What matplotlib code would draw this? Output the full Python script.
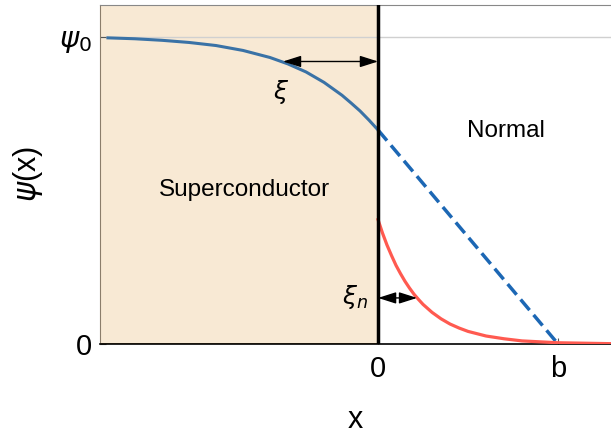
import matplotlib
matplotlib.use("Agg")
import matplotlib.pyplot as plt

plt.rcParams['font.family'] = ['Liberation Sans', 'DejaVu Sans']
plt.rcParams['mathtext.fontset'] = 'dejavusans'

# order parameter inside the superconductor
sc_x = [-1.5, -1.35, -1.2, -1.05, -0.9, -0.75, -0.6, -0.5, -0.45, -0.4, -0.35, -0.3,
        -0.25, -0.2, -0.15, -0.1, -0.05, -0.025, 0.0]
sc_psi = [0.997, 0.994, 0.989, 0.982, 0.972, 0.956, 0.933, 0.912, 0.899, 0.886, 0.869,
          0.852, 0.831, 0.810, 0.785, 0.759, 0.729, 0.713, 0.697]

# linear extrapolation into the normal metal, reaching zero at b
ext_x = [0.0, 1.0]
ext_psi = [0.697, 0.0]

# induced order parameter in the normal metal
n_x = [0.0, 0.025, 0.05, 0.075, 0.1, 0.125, 0.15, 0.175, 0.2, 0.225, 0.25, 0.3, 0.35,
       0.4, 0.45, 0.5, 0.6, 0.7, 0.8, 0.9, 1.0, 1.1, 1.3]
n_psi = [0.405, 0.361, 0.322, 0.288, 0.256, 0.229, 0.204, 0.182, 0.162, 0.145, 0.129,
         0.103, 0.082, 0.065, 0.052, 0.041, 0.026, 0.017, 0.010, 0.007, 0.004, 0.003, 0.001]

x_ticks = [0.0, 1.0]
x_ticklabels = ['0', 'b']
y_ticks = [0.0, 1.0]
y_ticklabels = ['0', r'$\psi_0$']

xi = (-0.528, 0.0, 0.92)      # x start, x end, height
xi_n = (0.0, 0.217, 0.15)

fig = plt.figure(figsize=(6.11, 4.34), dpi=100)
ax = fig.add_axes([0.1637, 0.2074, 0.8363, 0.7811])
ax.set_xlim(-1.544, 1.294)
ax.set_ylim(0, 1.104)

# shaded superconductor
ax.axvspan(-1.544, 0, facecolor='#f8e9d4', edgecolor='#8b6a2f', lw=1.2, zorder=0)
ax.axhline(1.0, color='#d0d0d0', lw=1, zorder=1)
ax.axvline(0, color='black', lw=2.5, zorder=4)

ax.plot(sc_x, sc_psi, color='#3a72a6', lw=2.2, zorder=3)
ax.plot(ext_x, ext_psi, color='#1c67b4', lw=2.5, ls=(0, (4, 1.8)), zorder=3)
ax.plot(n_x, n_psi, color='#ff5a50', lw=2.3, zorder=3)

arrow = dict(arrowstyle='<|-|>,head_length=1.1,head_width=0.35', color='black', lw=1,
             shrinkA=0, shrinkB=0)
ax.annotate('', xy=(xi[0], xi[2]), xytext=(xi[1], xi[2]), arrowprops=arrow, zorder=5)
ax.annotate('', xy=(xi_n[0], xi_n[2]), xytext=(xi_n[1], xi_n[2]), arrowprops=arrow, zorder=5)

ax.text(-0.54, 0.82, r'$\xi$', fontsize=18, ha='center', va='center')
ax.text(-0.13, 0.153, r'$\xi_n$', fontsize=18, ha='center', va='center')
ax.text(-0.74, 0.50, 'Superconductor', fontsize=17.5, ha='center', va='center')
ax.text(0.71, 0.694, 'Normal', fontsize=17.5, ha='center', va='center')

ax.set_xticks(x_ticks)
ax.set_xticklabels(x_ticklabels)
ax.set_yticks(y_ticks)
ax.set_yticklabels(y_ticklabels)
ax.tick_params(direction='in', length=4, width=0.8, color='#555555', labelsize=21)
ax.tick_params(axis='x', pad=8)
ax.tick_params(axis='y', pad=6)
ax.set_xlabel('x', fontsize=22, labelpad=16)
ax.set_ylabel(r'$\psi$(x)', fontsize=22, labelpad=10)

ax.spines['top'].set_color('#888888')
ax.spines['right'].set_visible(False)
ax.spines['left'].set_color('#8b7d6b')
ax.spines['bottom'].set_color('black')
ax.spines['bottom'].set_linewidth(1.2)

fig.savefig('out.png', dpi=100)
